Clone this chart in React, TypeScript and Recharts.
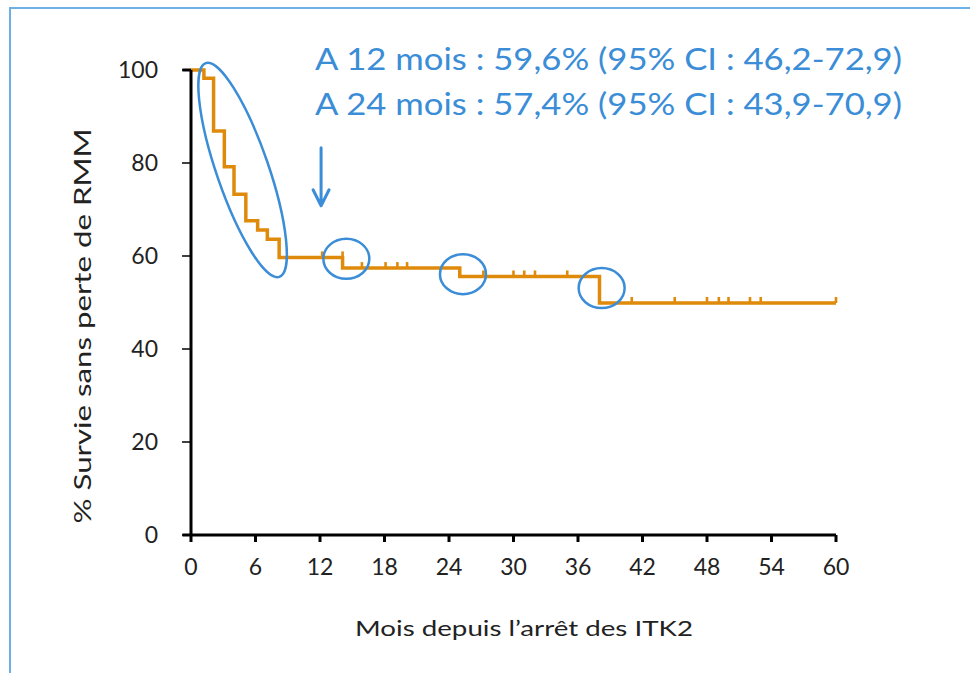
import React from "react";
import {
  ComposedChart,
  Line,
  Scatter,
  XAxis,
  YAxis,
  ReferenceDot,
  ReferenceLine,
} from "recharts";

// Kaplan-Meier step values
const eventTimes = [0, 1.2, 2.1, 3.1, 4.0, 5.1, 6.2, 7.1, 8.2, 14.1, 25.0, 38.0, 60];
const survival = [100, 98.2, 86.9, 79.2, 73.3, 67.6, 65.6, 63.6, 59.7, 57.4, 55.6, 49.9, 49.9];
// censored observations (months)
const censorTimes = [12.2, 14.1, 15.9, 18.1, 19.2, 20.1, 27.2, 30.0, 31.0, 32.0, 35.0, 41.0, 45.0, 48.0, 49.1, 50.0, 52.0, 53.0, 60];
const xTicks = [0, 6, 12, 18, 24, 30, 36, 42, 48, 54, 60];
const yTicks = [0, 20, 40, 60, 80, 100];
const annotationLines = [
  "A 12 mois : 59,6% (95% CI : 46,2-72,9)",
  "A 24 mois : 57,4% (95% CI : 43,9-70,9)",
];
// highlighted zones: [month, survival]
const highlightCircles: [number, number][] = [
  [14.45, 59.4],
  [25.3, 56.1],
  [38.2, 53.1],
];
const highlightEllipse: [number, number] = [4.8, 78.5];
const arrowTip: [number, number] = [12.1, 70.8];

const kmData = eventTimes.map((t, i) => ({ t, s: survival[i] }));
const levelBefore = (t: number) => {
  let s = survival[0];
  for (let i = 0; i < eventTimes.length; i++) {
    if (eventTimes[i] < t) s = survival[i];
  }
  return s;
};
const censorData = censorTimes.map((t) => ({ t, s: levelBefore(t) }));

const ORANGE = "#E08A0C";
const BLUE = "#3A8DD6";
const FONT = "Lato, 'Open Sans', sans-serif";
const TICK_COLOR = "#222222";

const CensorMark = (props: any) => {
  const { cx, cy } = props;
  if (cx == null || cy == null) return null;
  return <rect x={cx - 1.3} y={cy - 6} width={2.6} height={6} fill={ORANGE} />;
};

export default function App() {
  return (
    <div
      style={{
        position: "absolute",
        left: 0,
        top: 0,
        width: 970,
        height: 673,
        background: "#fff",
        overflow: "hidden",
      }}
    >
      <div
        style={{
          position: "absolute",
          left: 9,
          top: 7,
          width: 1000,
          height: 700,
          borderLeft: "2px solid #6CB0E6",
          borderTop: "2px solid #6CB0E6",
        }}
      />
      <div style={{ position: "absolute", left: 0, top: 0 }}>
        <ComposedChart
          width={970}
          height={673}
          margin={{ top: 70, right: 134, bottom: 0, left: 0 }}
        >
          <XAxis
            type="number"
            dataKey="t"
            domain={[0, 60]}
            ticks={xTicks}
            interval={0}
            height={138}
            axisLine={{ stroke: "#000", strokeWidth: 3 }}
            tickLine={{ stroke: "#000", strokeWidth: 3 }}
            tickSize={7}
            tickMargin={17}
            tick={{ fill: TICK_COLOR, fontSize: 23, fontFamily: FONT }}
          />
          <YAxis
            type="number"
            dataKey="s"
            domain={[0, 100]}
            ticks={yTicks}
            interval={0}
            width={191}
            axisLine={{ stroke: "#000", strokeWidth: 3 }}
            tickLine={{ stroke: "#000", strokeWidth: 1.5 }}
            tickSize={9}
            tickMargin={24}
            tick={{ fill: TICK_COLOR, fontSize: 23, fontFamily: FONT }}
          />
          <ReferenceLine
            segment={[{ x: -0.8, y: 100 }, { x: 0, y: 100 }]}
            stroke="#000"
            strokeWidth={3}
            ifOverflow="visible"
          />
          <ReferenceLine
            segment={[{ x: -0.8, y: 0 }, { x: 0, y: 0 }]}
            stroke="#000"
            strokeWidth={3}
            ifOverflow="visible"
          />
          <Line
            data={kmData}
            dataKey="s"
            type="stepAfter"
            stroke={ORANGE}
            strokeWidth={3.5}
            dot={false}
            activeDot={false}
            isAnimationActive={false}
          />
          <Scatter
            data={censorData}
            dataKey="s"
            shape={<CensorMark />}
            isAnimationActive={false}
          />
          <ReferenceDot
            x={highlightEllipse[0]}
            y={highlightEllipse[1]}
            ifOverflow="visible"
            shape={(p: any) => (
              <ellipse
                cx={p.cx}
                cy={p.cy}
                rx={26}
                ry={113}
                transform={`rotate(-19 ${p.cx} ${p.cy})`}
                fill="none"
                stroke={BLUE}
                strokeWidth={2.5}
              />
            )}
          />
          {highlightCircles.map(([x, y], i) => (
            <ReferenceDot
              key={i}
              x={x}
              y={y}
              ifOverflow="visible"
              shape={(p: any) => (
                <ellipse
                  cx={p.cx}
                  cy={p.cy}
                  rx={23}
                  ry={20}
                  fill="none"
                  stroke={BLUE}
                  strokeWidth={2.5}
                />
              )}
            />
          ))}
          <ReferenceDot
            x={arrowTip[0]}
            y={arrowTip[1]}
            ifOverflow="visible"
            shape={(p: any) => (
              <path
                d={`M ${p.cx} ${p.cy - 58} L ${p.cx} ${p.cy - 1} M ${p.cx - 8} ${p.cy - 16} L ${p.cx} ${p.cy} L ${p.cx + 8} ${p.cy - 16}`}
                fill="none"
                stroke={BLUE}
                strokeWidth={3}
                strokeLinecap="round"
                strokeLinejoin="round"
              />
            )}
          />
        </ComposedChart>
      </div>
      <svg
        width={970}
        height={673}
        style={{ position: "absolute", left: 0, top: 0, pointerEvents: "none" }}
      >
        {annotationLines.map((txt, i) => (
          <text
            key={i}
            x={315}
            y={70 + i * 45}
            fill={BLUE}
            fontFamily={FONT}
            fontSize={31}
            textLength={587}
            lengthAdjust="spacingAndGlyphs"
          >
            {txt}
          </text>
        ))}
        <text
          x={524}
          y={636}
          textAnchor="middle"
          fill={TICK_COLOR}
          fontFamily={FONT}
          fontSize={22}
          textLength={338}
          lengthAdjust="spacingAndGlyphs"
        >
          Mois depuis l’arrêt des ITK2
        </text>
        <text
          transform="translate(91 326) rotate(-90)"
          x={0}
          y={0}
          textAnchor="middle"
          fill={TICK_COLOR}
          fontFamily={FONT}
          fontSize={24}
          textLength={395}
          lengthAdjust="spacingAndGlyphs"
        >
          % Survie sans perte de RMM
        </text>
      </svg>
    </div>
  );
}
